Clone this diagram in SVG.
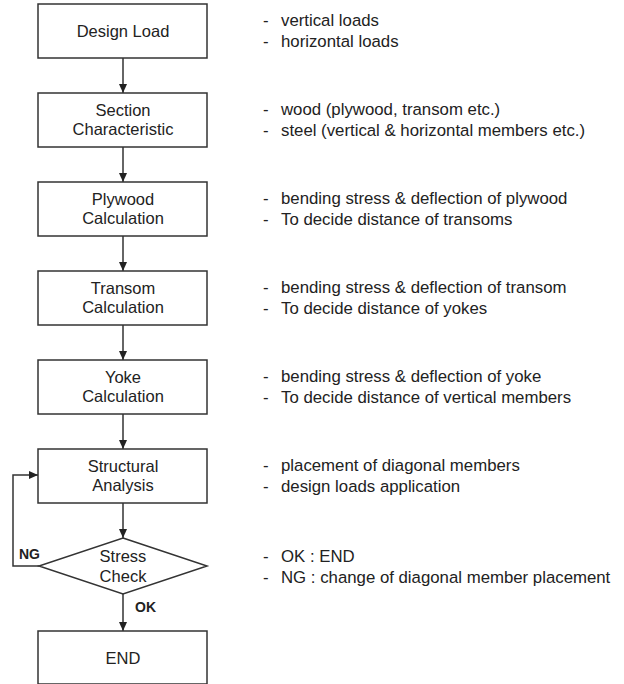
<svg xmlns="http://www.w3.org/2000/svg" width="624" height="684" viewBox="0 0 624 684">
<style>
.box{fill:#fff;stroke:#333;stroke-width:1.5}
.t{font-family:"Liberation Sans",Arial,sans-serif;font-size:16.5px;fill:#222;text-anchor:middle}
.n{font-family:"Liberation Sans",Arial,sans-serif;font-size:16.8px;fill:#222}
.b{font-family:"Liberation Sans",Arial,sans-serif;font-size:14px;font-weight:bold;fill:#222}
.c{fill:none;stroke:#333;stroke-width:1.5}
</style>
<defs>
<marker id="ah" markerWidth="10" markerHeight="10" refX="9" refY="5" orient="auto" markerUnits="userSpaceOnUse">
<path d="M0,1 L9,5 L0,9 Z" fill="#222"/>
</marker>
</defs>
<rect width="624" height="684" fill="#fff"/>
<g id="connectors">
<line class="c" x1="123" y1="58" x2="123" y2="93" marker-end="url(#ah)"/>
<line class="c" x1="123" y1="147" x2="123" y2="182" marker-end="url(#ah)"/>
<line class="c" x1="123" y1="236" x2="123" y2="271" marker-end="url(#ah)"/>
<line class="c" x1="123" y1="325" x2="123" y2="360" marker-end="url(#ah)"/>
<line class="c" x1="123" y1="414" x2="123" y2="449" marker-end="url(#ah)"/>
<line class="c" x1="123" y1="503" x2="123" y2="538" marker-end="url(#ah)"/>
<line class="c" x1="123" y1="594" x2="123" y2="631" marker-end="url(#ah)"/>
<polyline class="c" points="39,566 13,566 13,475 38,475" marker-end="url(#ah)"/>
<text class="b" x="19" y="559">NG</text>
<text class="b" x="135" y="612">OK</text>
</g>
<g id="design-load">
<rect class="box" x="38" y="4" width="169" height="54"/>
<text class="t" x="123" y="37">Design Load</text>
</g>
<g id="section">
<rect class="box" x="38" y="93" width="169" height="54"/>
<text class="t" x="123" y="116">Section</text>
<text class="t" x="123" y="135">Characteristic</text>
</g>
<g id="plywood">
<rect class="box" x="38" y="182" width="169" height="54"/>
<text class="t" x="123" y="205">Plywood</text>
<text class="t" x="123" y="224">Calculation</text>
</g>
<g id="transom">
<rect class="box" x="38" y="271" width="169" height="54"/>
<text class="t" x="123" y="294">Transom</text>
<text class="t" x="123" y="313">Calculation</text>
</g>
<g id="yoke">
<rect class="box" x="38" y="360" width="169" height="54"/>
<text class="t" x="123" y="383">Yoke</text>
<text class="t" x="123" y="402">Calculation</text>
</g>
<g id="structural">
<rect class="box" x="38" y="449" width="169" height="54"/>
<text class="t" x="123" y="472">Structural</text>
<text class="t" x="123" y="491">Analysis</text>
</g>
<g id="stress-check">
<polygon class="box" points="123,538 207,566 123,594 39,566"/>
<text class="t" x="123" y="562">Stress</text>
<text class="t" x="123" y="582">Check</text>
</g>
<g id="end">
<rect class="box" x="38" y="631" width="169" height="53"/>
<text class="t" x="123" y="664">END</text>
</g>
<g id="notes">
<text class="n" x="263" y="26">-</text><text class="n" x="281" y="26">vertical loads</text>
<text class="n" x="263" y="47">-</text><text class="n" x="281" y="47">horizontal loads</text>
<text class="n" x="263" y="115">-</text><text class="n" x="281" y="115">wood (plywood, transom etc.)</text>
<text class="n" x="263" y="136">-</text><text class="n" x="281" y="136">steel (vertical &amp; horizontal members etc.)</text>
<text class="n" x="263" y="204">-</text><text class="n" x="281" y="204">bending stress &amp; deflection of plywood</text>
<text class="n" x="263" y="225">-</text><text class="n" x="281" y="225">To decide distance of transoms</text>
<text class="n" x="263" y="293">-</text><text class="n" x="281" y="293">bending stress &amp; deflection of transom</text>
<text class="n" x="263" y="314">-</text><text class="n" x="281" y="314">To decide distance of yokes</text>
<text class="n" x="263" y="382">-</text><text class="n" x="281" y="382">bending stress &amp; deflection of yoke</text>
<text class="n" x="263" y="403">-</text><text class="n" x="281" y="403">To decide distance of vertical members</text>
<text class="n" x="263" y="471">-</text><text class="n" x="281" y="471">placement of diagonal members</text>
<text class="n" x="263" y="492">-</text><text class="n" x="281" y="492">design loads application</text>
<text class="n" x="263" y="562">-</text><text class="n" x="281" y="562">OK : END</text>
<text class="n" x="263" y="583">-</text><text class="n" x="281" y="583">NG : change of diagonal member placement</text>
</g>
</svg>
